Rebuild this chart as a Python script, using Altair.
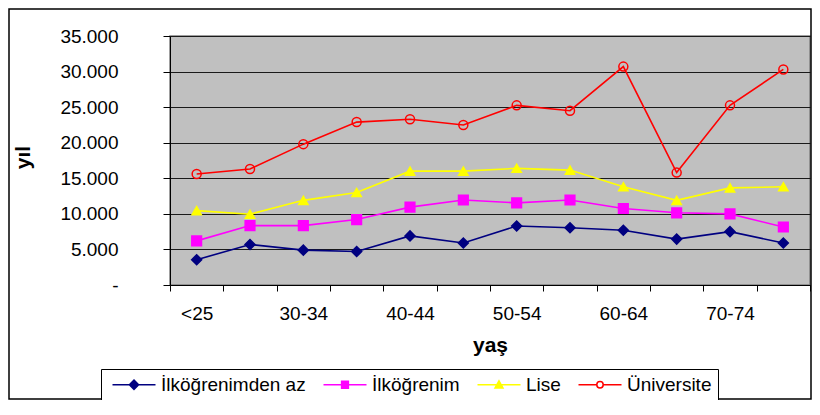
import altair as alt
import pandas as pd

categories = ['<25', '25-29', '30-34', '35-39', '40-44', '45-49', '50-54', '55-59', '60-64', '65-69', '70-74', '75+']
series_names = ['İlköğrenimden az', 'İlköğrenim', 'Lise', 'Üniversite']
ilkogrenimden_az = [3550, 5700, 4900, 4700, 6900, 5900, 8300, 8050, 7700, 6450, 7500, 5900]
ilkogrenim = [6200, 8350, 8350, 9200, 10950, 11950, 11550, 11950, 10750, 10150, 10000, 8150]
lise = [10450, 9950, 11900, 13000, 16000, 16000, 16400, 16150, 13800, 11900, 13650, 13800]
universite = [15600, 16300, 19800, 22900, 23300, 22500, 25250, 24500, 30700, 15800, 25250, 30300]
y_ticks = [0, 5000, 10000, 15000, 20000, 25000, 30000, 35000]

colors = ['#000080', '#FF00FF', '#FFFF00', '#FF0000']
fills = ['#000080', '#FF00FF', '#FFFF00', 'transparent']
shapes = ['diamond', 'square', 'triangle-up', 'circle']
sizes = [100, 81, 144, 90]
legend_shapes = [
    "M-1,0H9.75M4.375,-1.15L5.525,0L4.375,1.15L3.225,0Z",
    "M-1,0H9.75M3.525,-0.85H5.225V0.85H3.525Z",
    "M-1,0H9.75M4.375,-1.0L5.375,0.8L3.375,0.8Z",
    "M-1,0H3.575M5.175,0H9.75M5.175,0A0.8,0.8,0,1,1,3.575,0A0.8,0.8,0,1,1,5.175,0Z",
]

rows = []
for name, vals in zip(series_names, [ilkogrenimden_az, ilkogrenim, lise, universite]):
    for c, v in zip(categories, vals):
        rows.append({'yas': c, 'yil': v, 'seri': name})
df = pd.DataFrame(rows)

FONT = 'Liberation Sans'
shown_labels = categories[::2]
label_expr = "indexof([" + ",".join("'" + c + "'" for c in shown_labels) + "], datum.value) >= 0 ? datum.label : ''"

x_enc = alt.X('yas:N', sort=categories,
              scale=alt.Scale(type='band', paddingInner=0, paddingOuter=0, domain=categories),
              axis=alt.Axis(title='yaş', labelAngle=0, tickBand='extent', tickSize=6, tickColor='black',
                            domainColor='black', labelFont=FONT, labelFontSize=19, labelColor='black',
                            labelPadding=13, labelExpr=label_expr, titleFont=FONT, titleFontSize=21,
                            titleFontWeight='bold', titleColor='black', titleY=66, titleBaseline='alphabetic',
                            grid=False))
y_enc = alt.Y('yil:Q', scale=alt.Scale(domain=[0, 35000], nice=False),
              axis=alt.Axis(title='yıl', values=y_ticks, tickSize=7, tickColor='black', domainColor='black',
                            labelFont=FONT, labelFontSize=19, labelColor='black', labelPadding=45,
                            labelExpr="datum.value == 0 ? '-' : replace(format(datum.value, ','), ',', '.')",
                            grid=True, gridColor='#1a1a1a', gridWidth=1,
                            titleFont=FONT, titleFontSize=21, titleFontWeight='bold', titleColor='black',
                            titleX=-141, titleY=121, titleAngle=-90, titleAlign='center',
                            titleBaseline='alphabetic'))

base = alt.Chart(df)

lines = base.mark_line(strokeWidth=1.6).encode(
    x=x_enc, y=y_enc,
    color=alt.Color('seri:N', scale=alt.Scale(domain=series_names, range=colors), legend=None),
)

points = base.mark_point(filled=True, opacity=1, strokeWidth=1.5).encode(
    x=x_enc, y=y_enc,
    shape=alt.Shape('seri:N', scale=alt.Scale(domain=series_names, range=shapes), legend=None),
    stroke=alt.Stroke('seri:N', scale=alt.Scale(domain=series_names, range=colors), legend=None),
    fill=alt.Fill('seri:N', scale=alt.Scale(domain=series_names, range=fills), legend=None),
    size=alt.Size('seri:N', scale=alt.Scale(domain=series_names, range=sizes), legend=None),
)

legend = alt.Legend(title=None, orient='none', legendX=-69, legendY=333, direction='horizontal',
                    columns=4, columnPadding=12, labelFont=FONT, labelFontSize=19, labelColor='black',
                    labelOffset=35, labelLimit=0, padding=6, strokeColor='black', fillColor='white',
                    symbolSize=64, symbolStrokeWidth=1.5)

legend_layer = base.mark_point(filled=True, opacity=1).encode(
    x=x_enc, y=y_enc,
    shape=alt.Shape('seri:N', scale=alt.Scale(domain=series_names, range=legend_shapes), legend=legend),
    stroke=alt.Stroke('seri:N', scale=alt.Scale(domain=series_names, range=colors), legend=legend),
    fill=alt.Fill('seri:N', scale=alt.Scale(domain=series_names, range=fills), legend=legend),
).transform_filter('false')

frame = alt.Chart(pd.DataFrame({'f': [0]})).mark_rect(fill='transparent', stroke='black', strokeWidth=1.5).encode(
    x=alt.value(-161), x2=alt.value(641), y=alt.value(-27), y2=alt.value(363)
)

chart = alt.layer(frame, lines, points, legend_layer).resolve_scale(
    color='independent', shape='independent', stroke='independent', fill='independent', size='independent'
).properties(
    width=640, height=249,
    autosize=alt.AutoSizeParams(type='none'),
    padding={'left': 162, 'top': 28, 'right': 2, 'bottom': 115},
    background='white',
).configure_view(
    fill='#C0C0C0', stroke='#808080', strokeWidth=1.5
)

chart.save("out.html", embed_options={"renderer": "svg", "actions": False})
